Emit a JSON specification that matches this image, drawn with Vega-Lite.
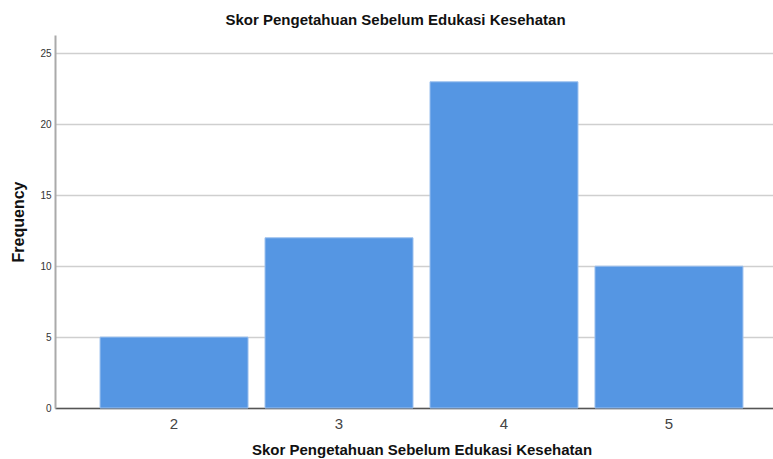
{
  "$schema": "https://vega.github.io/schema/vega-lite/v6.json",
  "autosize": {"type": "none"},
  "padding": {"left": 55, "top": 35, "right": 0, "bottom": 51},
  "width": 733,
  "height": 373,
  "background": "white",
  "title": {
    "text": "Skor Pengetahuan Sebelum Edukasi Kesehatan",
    "font": "Liberation Sans",
    "fontSize": 15,
    "fontWeight": "bold",
    "color": "#111111",
    "anchor": "middle",
    "dx": -26,
    "offset": 7
  },
  "data": {
    "values": [
      {"skor": "2", "frequency": 5},
      {"skor": "3", "frequency": 12},
      {"skor": "4", "frequency": 23},
      {"skor": "5", "frequency": 10}
    ]
  },
  "mark": {"type": "bar", "color": "#5596E3", "stroke": "#9CC0EE", "strokeWidth": 1},
  "encoding": {
    "x": {
      "field": "skor",
      "type": "ordinal",
      "scale": {"paddingInner": 0.103, "paddingOuter": 0.273},
      "axis": {
        "title": "Skor Pengetahuan Sebelum Edukasi Kesehatan",
        "titleFont": "Liberation Sans",
        "titleFontSize": 15,
        "titleFontWeight": "bold",
        "titleColor": "#111111",
        "titlePadding": 11,
        "labelAngle": 0,
        "labelFont": "Liberation Sans",
        "labelFontSize": 15,
        "labelColor": "#444444",
        "labelPadding": 8,
        "ticks": false,
        "domainColor": "#555555",
        "domainWidth": 1.5,
        "grid": false
      }
    },
    "y": {
      "field": "frequency",
      "type": "quantitative",
      "scale": {"domain": [0, 26.3], "nice": false},
      "axis": {
        "title": "Frequency",
        "titleFont": "Liberation Sans",
        "titleFontSize": 16,
        "titleFontWeight": "bold",
        "titleColor": "#111111",
        "titlePadding": 13,
        "values": [0, 5, 10, 15, 20, 25],
        "labelFont": "Liberation Sans",
        "labelFontSize": 10,
        "labelColor": "#333333",
        "labelPadding": 4,
        "ticks": false,
        "domainColor": "#AAAAAA",
        "domainWidth": 2,
        "grid": true,
        "gridColor": "#CFCFCF",
        "gridWidth": 1.5
      }
    }
  },
  "config": {"view": {"stroke": null}}
}
